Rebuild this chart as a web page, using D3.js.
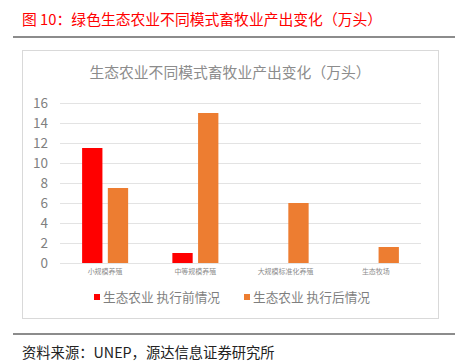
<!DOCTYPE html>
<html>
<head>
<meta charset="utf-8">
<script src="https://cdn.jsdelivr.net/npm/d3@7"></script>
<style>
  body { margin: 0; background: #fff; }
  text { font-family: "Noto Sans CJK SC", "Noto Sans", sans-serif; }
</style>
</head>
<body>
<div id="chart"></div>
<script>
var categories = ["小规模养殖", "中等规模养殖", "大规模标准化养殖", "生态牧场"];
var seriesNames = ["生态农业 执行前情况", "生态农业 执行后情况"];
var beforeValues = [11.5, 1, 0, 0];
var afterValues = [7.5, 15, 6, 1.6];
var yTicks = [0, 2, 4, 6, 8, 10, 12, 14, 16];
var colors = ["#ff0000", "#ed7d31"];

var width = 455, height = 361;
var plot = { left: 60, right: 421, top: 103, bottom: 263 };

var svg = d3.select("#chart").append("svg")
    .attr("width", width)
    .attr("height", height);

// header
svg.append("text")
    .attr("x", 22).attr("y", 25)
    .attr("font-size", 14.8)
    .attr("fill", "#ff0000")
    .text("图 10：绿色生态农业不同模式畜牧业产出变化（万头）");

svg.append("line")
    .attr("x1", 13).attr("x2", 455).attr("y1", 37).attr("y2", 37)
    .attr("stroke", "#666").attr("stroke-width", 1.5);

// chart frame
svg.append("rect")
    .attr("x", 22.5).attr("y", 50.5).attr("width", 416).attr("height", 268)
    .attr("fill", "#fff").attr("stroke", "#d9d9d9");

svg.append("text")
    .attr("x", 230).attr("y", 78)
    .attr("text-anchor", "middle")
    .attr("font-size", 14.8)
    .attr("fill", "#8c8c8c")
    .text("生态农业不同模式畜牧业产出变化（万头）");

var y = d3.scaleLinear().domain([0, 16]).range([plot.bottom, plot.top]);

var x = d3.scaleBand().domain(categories)
    .range([plot.left, plot.right])
    .paddingInner(0.49).paddingOuter(0.245);

var xs = d3.scaleBand().domain(seriesNames)
    .range([0, x.bandwidth()])
    .paddingInner(0.21);

// gridlines
svg.append("g").selectAll("line").data(yTicks).enter().append("line")
    .attr("x1", plot.left).attr("x2", plot.right)
    .attr("y1", function(d) { return Math.round(y(d)) + 0.5; })
    .attr("y2", function(d) { return Math.round(y(d)) + 0.5; })
    .attr("stroke", "#e3e3e3").attr("stroke-width", 1);

// y labels
svg.append("g").selectAll("text").data(yTicks).enter().append("text")
    .attr("x", 48).attr("y", function(d) { return y(d); })
    .attr("dy", "0.36em")
    .attr("text-anchor", "end")
    .attr("font-size", 13.5)
    .attr("fill", "#7f7f7f")
    .text(function(d) { return d; });

// bars
var rows = categories.map(function(c, i) {
    return { cat: c, vals: [beforeValues[i], afterValues[i]] };
});

var grp = svg.append("g").selectAll("g").data(rows).enter().append("g")
    .attr("transform", function(d) { return "translate(" + x(d.cat) + ",0)"; });

grp.selectAll("rect")
    .data(function(d) { return d.vals.map(function(v, j) { return { v: v, s: seriesNames[j], j: j }; }); })
    .enter().append("rect")
    .filter(function(d) { return d.v > 0; })
    .attr("x", function(d) { return xs(d.s); })
    .attr("width", xs.bandwidth())
    .attr("y", function(d) { return y(d.v); })
    .attr("height", function(d) { return y(0) - y(d.v); })
    .attr("fill", function(d) { return colors[d.j]; });

// x labels
svg.append("g").selectAll("text").data(categories).enter().append("text")
    .attr("x", function(d) { return x(d) + x.bandwidth() / 2; })
    .attr("y", 273.5)
    .attr("text-anchor", "middle")
    .attr("font-size", 7)
    .attr("fill", "#8c8c8c")
    .text(function(d) { return d; });

// legend
var legendX = [94, 244];
var lg = svg.append("g").selectAll("g").data(seriesNames).enter().append("g")
    .attr("transform", function(d, i) { return "translate(" + legendX[i] + ",297)"; });
lg.append("rect")
    .attr("x", 0).attr("y", -3).attr("width", 6).attr("height", 6)
    .attr("fill", function(d, i) { return colors[i]; });
lg.append("text")
    .attr("x", 9).attr("y", 0).attr("dy", "0.36em")
    .attr("font-size", 12.7)
    .attr("fill", "#7f7f7f")
    .text(function(d) { return d; });

// footer
svg.append("line")
    .attr("x1", 13).attr("x2", 455).attr("y1", 334).attr("y2", 334)
    .attr("stroke", "#666").attr("stroke-width", 1.5);

svg.append("text")
    .attr("x", 22).attr("y", 358)
    .attr("font-size", 14.3)
    .attr("fill", "#222")
    .text("资料来源：UNEP，源达信息证券研究所");
</script>
</body>
</html>
